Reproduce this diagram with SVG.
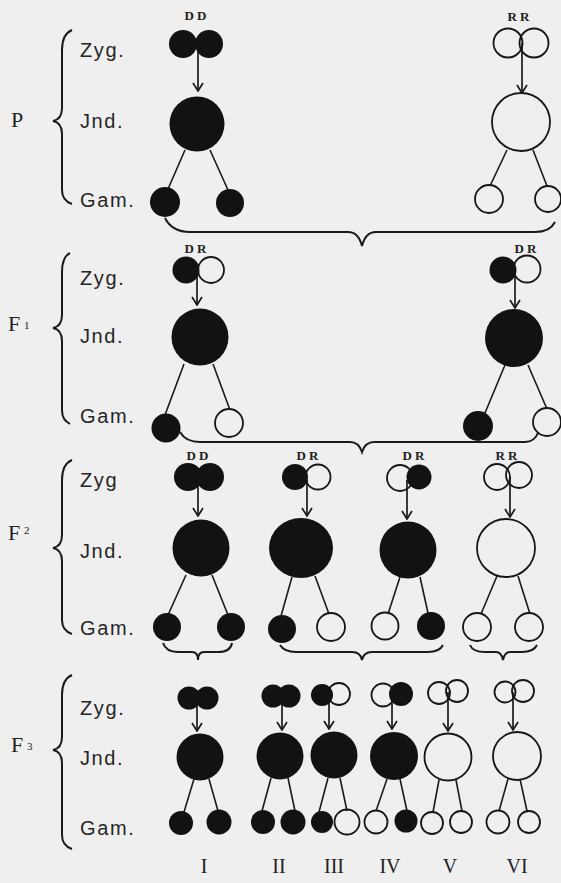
<svg xmlns="http://www.w3.org/2000/svg" width="561" height="883" viewBox="0 0 561 883">
<defs>
<style>
.bg{fill:#efefef}
.b{fill:#121212}
.o{fill:none;stroke:#161616;stroke-width:1.8}
.ln{fill:none;stroke:#1a1a1a;stroke-width:1.6}
.ar{fill:none;stroke:#1a1a1a;stroke-width:1.7}
.br{fill:none;stroke:#1a1a1a;stroke-width:2}
.lab{font-family:"Liberation Sans",Arial,sans-serif;font-size:20px;fill:#262626;letter-spacing:1.6px}
.gen{font-family:"Liberation Serif","Times New Roman",serif;font-size:22px;fill:#222}
.sub{font-family:"Liberation Serif","Times New Roman",serif;font-size:11px;fill:#222}
.al{font-family:"Liberation Serif","Times New Roman",serif;font-size:13px;font-weight:bold;fill:#222;letter-spacing:3px;text-anchor:middle}
.rn{font-family:"Liberation Serif","Times New Roman",serif;font-size:20px;fill:#222;text-anchor:middle}
</style>
<marker id="ah" viewBox="-9 -6 10 12" refX="0" refY="0" markerWidth="10" markerHeight="12" markerUnits="userSpaceOnUse" orient="auto">
<path d="M-8,-5 L0,0 L-8,5" fill="none" stroke="#1a1a1a" stroke-width="1.7"/>
</marker>
</defs>
<rect class="bg" x="0" y="0" width="561" height="883"/>

<g id="labels">
<text class="gen" x="11" y="127">P</text>
<text class="gen" x="8" y="331">F</text><text class="sub" x="24" y="329">1</text>
<text class="gen" x="8" y="540">F</text><text class="sub" x="24" y="534">2</text>
<text class="gen" x="11" y="752">F</text><text class="sub" x="27" y="750">3</text>

<text class="lab" x="80" y="57">Zyg.</text>
<text class="lab" x="80" y="128">Jnd.</text>
<text class="lab" x="80" y="207">Gam.</text>
<text class="lab" x="80" y="285">Zyg.</text>
<text class="lab" x="80" y="343">Jnd.</text>
<text class="lab" x="80" y="423">Gam.</text>
<text class="lab" x="80" y="487">Zyg</text>
<text class="lab" x="80" y="558">Jnd.</text>
<text class="lab" x="80" y="635">Gam.</text>
<text class="lab" x="80" y="715">Zyg.</text>
<text class="lab" x="80" y="765">Jnd.</text>
<text class="lab" x="80" y="835">Gam.</text>

<text class="al" x="197" y="20">DD</text>
<text class="al" x="520" y="21">RR</text>
<text class="al" x="197" y="253">DR</text>
<text class="al" x="527" y="253">DR</text>
<text class="al" x="199" y="460">DD</text>
<text class="al" x="309" y="460">DR</text>
<text class="al" x="415" y="460">DR</text>
<text class="al" x="508" y="460">RR</text>

<text class="rn" x="204" y="873">I</text>
<text class="rn" x="279" y="873">II</text>
<text class="rn" x="334" y="873">III</text>
<text class="rn" x="390" y="873">IV</text>
<text class="rn" x="450" y="873">V</text>
<text class="rn" x="517" y="873">VI</text>
</g>

<g id="connectors">
<path class="br" d="M72,30 C65,33 62,40 62,50 L62,108 C62,116 58,120 53,121 C58,122 62,126 62,134 L62,190 C62,198 66,202 72,204"/>
<path class="br" d="M70,253 C64,256 62,262 62,272 L62,315 C62,323 58,327 53,328 C58,329 62,333 62,341 L62,410 C62,418 65,421 70,424"/>
<path class="br" d="M72,460 C65,463 62,470 62,480 L62,535 C62,543 58,547 53,548 C58,549 62,553 62,561 L62,620 C62,628 66,632 72,634"/>
<path class="br" d="M72,675 C65,678 62,685 62,695 L62,737 C62,745 58,749 53,750 C58,751 62,755 62,763 L62,835 C62,843 66,847 72,849"/>
<path class="br" d="M165,218 C170,228 178,232 190,232 L348,232 C356,232 360,238 362,246 C364,238 368,232 376,232 L535,232 C545,232 552,228 555,222"/>
<path class="br" d="M180,432 C184,439 190,442 200,442 L350,442 C357,442 360,446 362,452 C364,446 367,442 374,442 L525,442 C532,442 536,438 538,433"/>
<path class="br" d="M163,643 C165,649 170,652 178,652 L192,652 C196,652 198,655 198,660 C198,655 200,652 204,652 L218,652 C226,652 231,649 232,643"/>
<path class="br" d="M280,645 C283,650 288,652 296,652 L352,652 C358,652 361,655 362,660 C363,655 366,652 372,652 L428,652 C436,652 441,649 443,645"/>
<path class="br" d="M470,645 C472,650 477,652 485,652 L496,652 C500,652 502,655 503,660 C504,655 506,652 510,652 L522,652 C530,652 535,649 537,645"/>
<path class="ar" d="M198,45 V91" marker-end="url(#ah)"/>
<path class="ln" d="M185,150 L168,189 M210,150 L228,190"/>
<path class="ar" d="M522,43 V93" marker-end="url(#ah)"/>
<path class="ln" d="M507,150 L490,186 M533,150 L547,186"/>
<path class="ar" d="M197,275 V305" marker-end="url(#ah)"/>
<path class="ln" d="M184,364 L165,415 M213,364 L230,410"/>
<path class="ar" d="M515,275 V308" marker-end="url(#ah)"/>
<path class="ln" d="M505,365 L485,413 M528,365 L547,409"/>
<path class="ar" d="M198,480 V516" marker-end="url(#ah)"/>
<path class="ln" d="M186,575 L168,615 M212,575 L228,615"/>
<path class="ar" d="M307,480 V516" marker-end="url(#ah)"/>
<path class="ln" d="M292,577 L281,616 M315,576 L329,614"/>
<path class="ar" d="M407,480 V519" marker-end="url(#ah)"/>
<path class="ln" d="M400,577 L388,614 M420,577 L428,613"/>
<path class="ar" d="M510,477 V517" marker-end="url(#ah)"/>
<path class="ln" d="M497,576 L481,614 M518,576 L530,614"/>
<path class="ar" d="M197,700 V731" marker-end="url(#ah)"/>
<path class="ln" d="M194,779 L184,812 M209,779 L218,811"/>
<path class="ar" d="M282,700 V730" marker-end="url(#ah)"/>
<path class="ln" d="M271,778 L262,811 M288,778 L295,811"/>
<path class="ar" d="M329,698 V729" marker-end="url(#ah)"/>
<path class="ln" d="M328,778 L319,812 M340,778 L347,811"/>
<path class="ar" d="M392,698 V729" marker-end="url(#ah)"/>
<path class="ln" d="M387,779 L376,811 M400,779 L407,811"/>
<path class="ar" d="M448,692 V731" marker-end="url(#ah)"/>
<path class="ln" d="M439,780 L433,812 M456,780 L462,811"/>
<path class="ar" d="M513,692 V730" marker-end="url(#ah)"/>
<path class="ln" d="M508,779 L499,811 M520,779 L527,811"/>
</g>

<g id="P-DD">
<circle class="b" cx="183" cy="44" r="14"/><circle class="b" cx="209" cy="44" r="14"/>
<circle class="b" cx="197" cy="124" r="27.5"/>
<circle class="b" cx="165" cy="202" r="15"/><circle class="b" cx="230" cy="203" r="14"/>
</g>
<g id="P-RR">
<circle class="o" cx="508" cy="43" r="14.5"/><circle class="o" cx="534" cy="43" r="14.5"/>
<circle class="o" cx="521" cy="122" r="29"/>
<circle class="o" cx="489" cy="199" r="14"/><circle class="o" cx="548" cy="199" r="13"/>
</g>

<g id="F1-DR-left">
<circle class="o" cx="211" cy="270" r="13"/><circle class="b" cx="186" cy="270" r="13.5"/>
<circle class="b" cx="200" cy="337" r="28.5"/>
<circle class="b" cx="166" cy="428" r="14.5"/><circle class="o" cx="229" cy="423" r="14"/>
</g>
<g id="F1-DR-right">
<circle class="o" cx="527" cy="269" r="13.5"/><circle class="b" cx="503" cy="270" r="13.5"/>
<circle class="b" cx="514" cy="338" r="29"/>
<circle class="b" cx="478" cy="426" r="15"/><circle class="o" cx="547" cy="422" r="14"/>
</g>

<g id="F2-DD">
<circle class="b" cx="188" cy="477" r="14"/><circle class="b" cx="210" cy="477" r="14"/>
<circle class="b" cx="201" cy="548" r="28.5"/>
<circle class="b" cx="167" cy="627" r="14"/><circle class="b" cx="231" cy="627" r="14"/>
</g>
<g id="F2-DR-a">
<circle class="o" cx="318" cy="477" r="12.5"/><circle class="b" cx="295" cy="477" r="13"/>
<ellipse class="b" cx="301" cy="548" rx="32" ry="30"/>
<circle class="b" cx="282" cy="629" r="14"/><circle class="o" cx="331" cy="627" r="14"/>
</g>
<g id="F2-DR-b">
<circle class="o" cx="400" cy="478" r="13"/><circle class="b" cx="419" cy="477" r="12.5"/>
<circle class="b" cx="408" cy="550" r="28.5"/>
<circle class="o" cx="385" cy="626" r="13.5"/><circle class="b" cx="431" cy="626" r="14"/>
</g>
<g id="F2-RR">
<circle class="o" cx="497" cy="477" r="13"/><circle class="o" cx="519" cy="475" r="13"/>
<circle class="o" cx="506" cy="548" r="29"/>
<circle class="o" cx="477" cy="627" r="14"/><circle class="o" cx="529" cy="627" r="14"/>
</g>

<g id="F3-I">
<circle class="b" cx="189" cy="698" r="11.5"/><circle class="b" cx="207" cy="698" r="11.5"/>
<circle class="b" cx="200" cy="757" r="23.5"/>
<circle class="b" cx="181" cy="823" r="12"/><circle class="b" cx="219" cy="822" r="12.5"/>
</g>
<g id="F3-II">
<circle class="b" cx="273" cy="696" r="11.5"/><circle class="b" cx="289" cy="696" r="11.5"/>
<circle class="b" cx="280" cy="756" r="23.5"/>
<circle class="b" cx="263" cy="822" r="12"/><circle class="b" cx="293" cy="822" r="12.5"/>
</g>
<g id="F3-III">
<circle class="o" cx="339" cy="694" r="11"/><circle class="b" cx="322" cy="695" r="11"/>
<circle class="b" cx="334" cy="755" r="23.5"/>
<circle class="b" cx="322" cy="822" r="11"/><circle class="o" cx="347" cy="822" r="12.5"/>
</g>
<g id="F3-IV">
<circle class="o" cx="383" cy="695" r="11.5"/><circle class="b" cx="401" cy="694" r="12"/>
<circle class="b" cx="394" cy="756" r="24"/>
<circle class="o" cx="376" cy="822" r="11.5"/><circle class="b" cx="406" cy="821" r="11.5"/>
</g>
<g id="F3-V">
<circle class="o" cx="439" cy="693" r="11"/><circle class="o" cx="457" cy="691" r="11"/>
<circle class="o" cx="448" cy="757" r="23.5"/>
<circle class="o" cx="432" cy="823" r="11"/><circle class="o" cx="461" cy="822" r="11"/>
</g>
<g id="F3-VI">
<circle class="o" cx="505" cy="692" r="10.5"/><circle class="o" cx="523" cy="691" r="11"/>
<circle class="o" cx="517" cy="756" r="24"/>
<circle class="o" cx="498" cy="822" r="11.5"/><circle class="o" cx="529" cy="822" r="11"/>
</g>
</svg>
